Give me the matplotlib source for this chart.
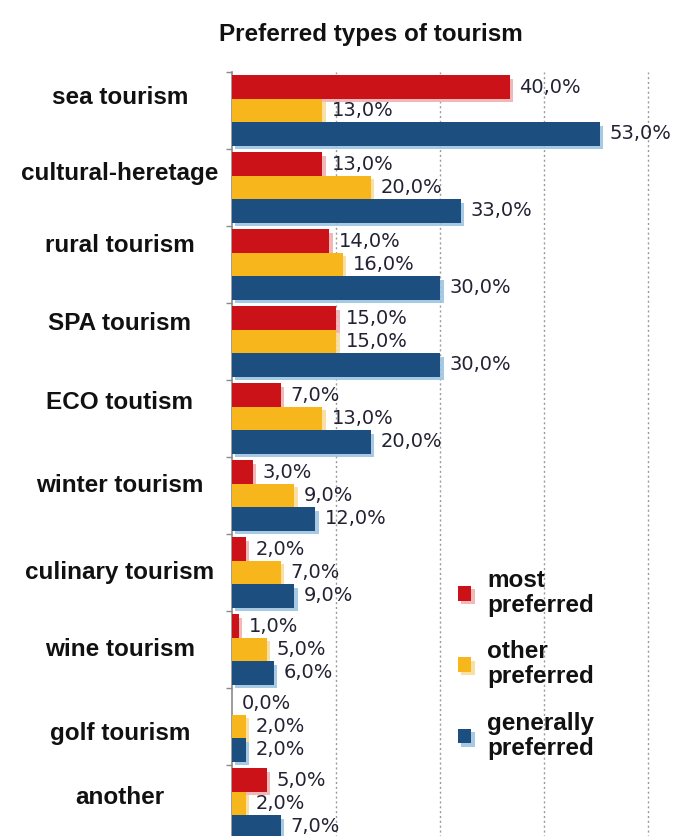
import matplotlib.pyplot as plt
import matplotlib.transforms as mtransforms
from matplotlib import patheffects as pe
import numpy as np

categories = ["sea tourism", "cultural-heretage", "rural tourism", "SPA tourism",
              "ECO toutism", "winter tourism", "culinary tourism", "wine tourism",
              "golf tourism", "another"]
most_preferred = [40, 13, 14, 15, 7, 3, 2, 1, 0, 5]
other_preferred = [13, 20, 16, 15, 13, 9, 7, 5, 2, 2]
generally_preferred = [53, 33, 30, 30, 20, 12, 9, 6, 2, 7]
series_names = ["most\npreferred", "other\npreferred", "generally\npreferred"]
grid_ticks = [15, 30, 45, 60]

# layout only: small vertical nudges of the category labels (in group units)
label_shift = [-0.17, -0.18, -0.25, -0.23, -0.21, -0.13, 0.0, 0.0, 0.09, -0.08]

colors = ["#cc1219", "#f6b61c", "#1c4e80"]
shadows = ["#f1b0b0", "#f8dd9a", "#9cc3e2"]

fig = plt.figure(figsize=(6.83, 8.36), dpi=100)
ax = fig.add_axes([232 / 683, -6 / 836, 451 / 683, 770 / 836])

y = np.arange(len(categories))
h = 0.305
series = [most_preferred, other_preferred, generally_preferred]

for k, (vals, col, sh, name) in enumerate(zip(series, colors, shadows, series_names)):
    bars = ax.barh(y + (k - 1) * h, vals, height=h, color=col, label=name,
                   zorder=3)
    for b in bars:
        b.set_path_effects([pe.SimplePatchShadow(offset=(2.5, -2.5),
                                                 shadow_rgbFace=sh, alpha=0.9),
                            pe.Normal()])
    for yy, v in zip(y + (k - 1) * h, vals):
        ax.annotate(f"{v:.1f}%".replace(".", ","), (v, yy),
                    xytext=(7, 0), textcoords="offset points",
                    ha="left", va="center", fontsize=14, color="#222233",
                    zorder=4)

ax.set_xlim(0, 65)
ax.set_ylim(len(categories) - 0.5, -0.5)

for gx in grid_ticks:
    ax.axvline(gx, color="#9a9a9a", lw=1.0, ls=(0, (1.5, 2)), zorder=1)

for s in ["top", "right", "bottom"]:
    ax.spines[s].set_visible(False)
ax.spines["left"].set_color("#8a8a8a")
ax.spines["left"].set_linewidth(1.2)
ax.set_xticks([])
ax.set_yticks(np.arange(len(categories) + 1) - 0.5)
ax.set_yticklabels([])
ax.tick_params(axis="y", length=4, width=1, color="#8a8a8a")

trans = mtransforms.blended_transform_factory(fig.transFigure, ax.transData)
for i, (cat, sh) in enumerate(zip(categories, label_shift)):
    ax.text(120 / 683, i + sh, cat, transform=trans, ha="center", va="center",
            fontsize=17.5, fontweight="bold", family="Liberation Sans",
            color="#111111")

fig.text(371 / 683, 1 - 35 / 836, "Preferred types of tourism", ha="center",
         va="center", fontsize=17.5, fontweight="bold", family="Liberation Sans",
         color="#111111")

leg = ax.legend(loc="upper left", bbox_to_anchor=(458 / 683, 1 - 569 / 836),
                bbox_transform=fig.transFigure, frameon=False, borderpad=0,
                borderaxespad=0, handlelength=0.55, handleheight=0.55,
                handletextpad=0.65, labelspacing=0.97,
                prop={"family": "Liberation Sans", "weight": "bold", "size": 17.5})
for t in leg.get_texts():
    t.set_linespacing(1.1)
    t.set_color("#111111")

fig.savefig("out.png", dpi=100)
